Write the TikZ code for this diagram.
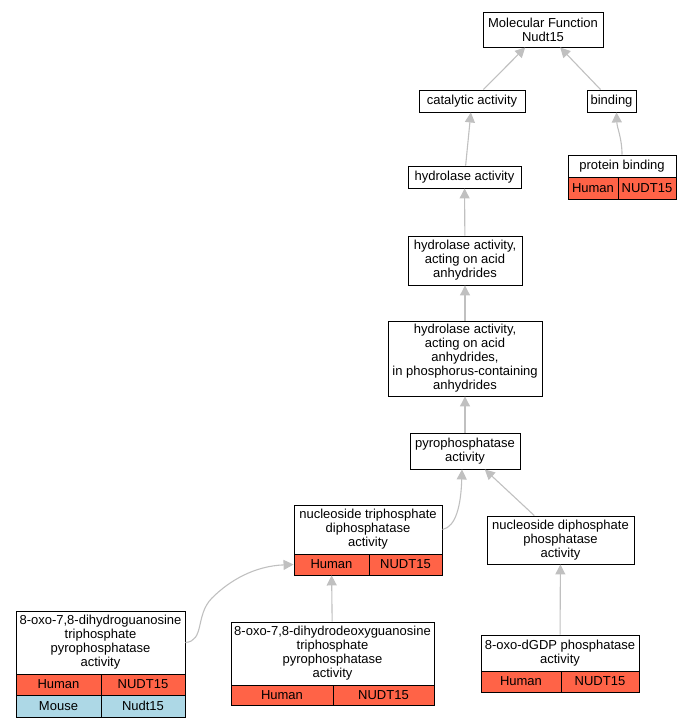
\documentclass[tikz,border=0pt]{standalone}
\usepackage{fontspec}
\setmainfont{Liberation Sans}
\usetikzlibrary{arrows.meta}

\definecolor{humanred}{HTML}{FF6347}
\definecolor{mouseblue}{HTML}{ADD8E6}
\definecolor{edgegray}{HTML}{C0C0C0}

\tikzset{
  term/.style={draw=black, line width=0.9pt, fill=white, align=center, inner sep=0pt,
    font=\fontsize{13}{14}\selectfont},
  cellred/.style={term, fill=humanred},
  cellblue/.style={term, fill=mouseblue},
  edge/.style={draw=edgegray, line width=1.1pt, -{Triangle[length=10pt,width=10pt]}}
}

\begin{document}
\begin{tikzpicture}[x=1pt,y=-1pt]
\useasboundingbox (0,0) rectangle (691,728);

% top of the tree
\node[term, minimum width=120pt, minimum height=35pt] (mf) at (543,29.5) {Molecular Function\\Nudt15};
\node[term, minimum width=106pt, minimum height=22pt] (cat) at (472,101) {catalytic activity};
\node[term, minimum width=49pt, minimum height=22pt] (bind) at (611.5,101) {binding};

% protein binding
\node[term, minimum width=108pt, minimum height=22pt] (prot) at (622,166) {protein binding};
\node[cellred, minimum width=50pt, minimum height=22pt] (prot1) at (593,188) {Human};
\node[cellred, minimum width=58pt, minimum height=22pt] (prot2) at (647,188) {NUDT15};

% hydrolase chain
\node[term, minimum width=113pt, minimum height=22pt] (hyd) at (464.5,177) {hydrolase activity};
\node[term, minimum width=114pt, minimum height=49pt] (acid) at (465,260.5) {hydrolase activity,\\acting on acid\\anhydrides};
\node[term, minimum width=154pt, minimum height=75pt] (phos) at (465,358.5) {hydrolase activity,\\acting on acid\\anhydrides,\\in phosphorus-containing\\anhydrides};
\node[term, minimum width=110pt, minimum height=36pt] (pyro) at (465,451) {pyrophosphatase\\activity};

% nucleoside triphosphate diphosphatase
\node[term, minimum width=148pt, minimum height=49pt] (ntp) at (368,529.5) {nucleoside triphosphate\\diphosphatase\\activity};
\node[cellred, minimum width=75pt, minimum height=21pt] (ntp1) at (331.5,564.5) {Human};
\node[cellred, minimum width=73pt, minimum height=21pt] (ntp2) at (405.5,564.5) {NUDT15};

% nucleoside diphosphate phosphatase
\node[term, minimum width=147pt, minimum height=48pt] (ndp) at (560.5,540) {nucleoside diphosphate\\phosphatase\\activity};

% leaves
\node[term, minimum width=169pt, minimum height=63pt] (guan) at (100.5,642.5) {8-oxo-7,8-dihydroguanosine\\triphosphate\\pyrophosphatase\\activity};
\node[cellred, minimum width=85pt, minimum height=21pt] (guan1) at (58.5,684.5) {Human};
\node[cellred, minimum width=84pt, minimum height=21pt] (guan2) at (143,684.5) {NUDT15};
\node[cellblue, minimum width=85pt, minimum height=22pt] (guan3) at (58.5,706) {Mouse};
\node[cellblue, minimum width=84pt, minimum height=22pt] (guan4) at (143,706) {Nudt15};

\node[term, minimum width=203pt, minimum height=63pt] (deoxy) at (332.5,653.5) {8-oxo-7,8-dihydrodeoxyguanosine\\triphosphate\\pyrophosphatase\\activity};
\node[cellred, minimum width=102pt, minimum height=20pt] (deoxy1) at (282,695) {Human};
\node[cellred, minimum width=101pt, minimum height=20pt] (deoxy2) at (383.5,695) {NUDT15};

\node[term, minimum width=158pt, minimum height=36pt] (dgdp) at (560,653) {8-oxo-dGDP phosphatase\\activity};
\node[cellred, minimum width=80pt, minimum height=21pt] (dgdp1) at (521,681.5) {Human};
\node[cellred, minimum width=78pt, minimum height=21pt] (dgdp2) at (600,681.5) {NUDT15};

% is_a edges
\draw[edge] (cat) -- (mf);
\draw[edge] (bind) -- (mf);
\draw[edge] (prot.north) .. controls (622,138) and (617,128) .. ([xshift=5pt]bind.south);
\draw[edge] (hyd) -- (cat);
\draw[edge] (acid) -- (hyd);
\draw[edge] (phos) -- (acid);
\draw[edge] (pyro) -- (phos);
\draw[edge] (ntp.east) .. controls (456,527) and (461,505) .. ([xshift=-3pt]pyro.south);
\draw[edge] (ndp) -- (pyro);
\draw[edge] (dgdp) -- (ndp);
\draw[edge] (deoxy) -- (ntp1);
\draw[edge] (guan.east) .. controls (205,641) and (195,615) .. (212,598)
  .. controls (230,580) and (255,566) .. (ntp1.west);

\end{tikzpicture}
\end{document}
